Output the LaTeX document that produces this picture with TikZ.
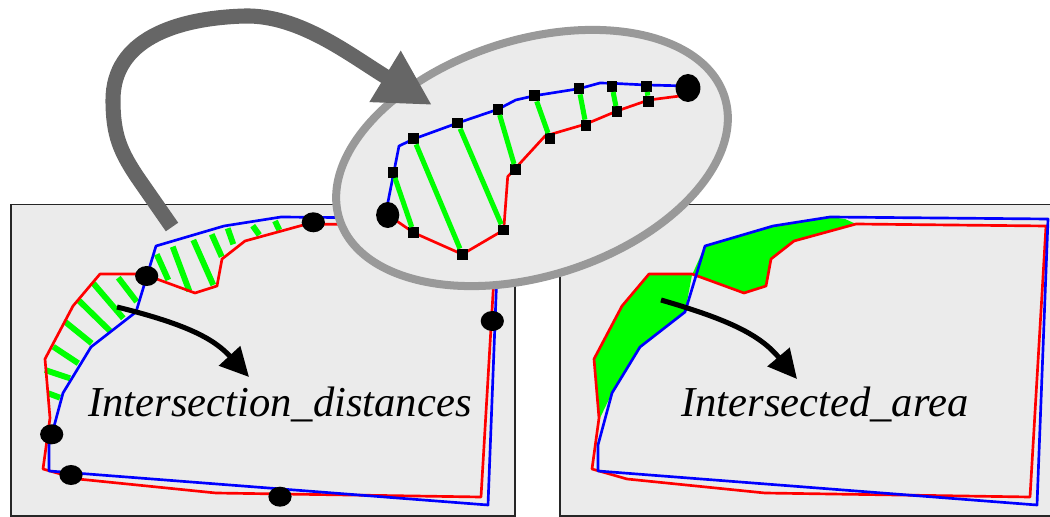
\documentclass[tikz,border=0pt]{standalone}
\usepackage{fontspec}
\setmainfont{Liberation Serif}
\usetikzlibrary{arrows.meta,shapes.geometric}
\definecolor{panelgray}{HTML}{EBEBEB}
\definecolor{ringgray}{HTML}{999999}
\definecolor{arrowgray}{HTML}{666666}
\definecolor{hatchgreen}{HTML}{00FF00}

\begin{document}
\begin{tikzpicture}[x=0.025cm,y=-0.025cm,
  panel/.style={fill=panelgray,draw=black!85,line width=0.9pt},
  redline/.style={draw=red,line width=1.9pt,line join=round},
  blueline/.style={draw=blue,line width=1.9pt,line join=round},
  hatch/.style={draw=hatchgreen,line width=4.2pt},
  dot/.style={ellipse,fill=black,minimum width=0.58cm,minimum height=0.5cm,inner sep=0pt},
  sq/.style={rectangle,fill=black,minimum size=0.27cm,inner sep=0pt},
  pointer/.style={draw=black,line width=3.6pt,-{Triangle[length=0.72cm,width=0.7cm]}},
  bigarrow/.style={draw=arrowgray,line width=10.7pt,-{Triangle[length=1.375cm,width=1.4cm]}},
  lbl/.style={font=\itshape\fontsize{30.3}{36}\selectfont,inner sep=0pt,anchor=base west}]
\useasboundingbox (0,0) rectangle (1050,517);
\draw[panel] (11,204.5) rectangle (515,516);
\draw[panel] (560,204.5) rectangle (1060,516);

\fill[hatchgreen,shift={(549,0)}] (100,274) -- (143,275) -- (136,312) -- (91,347) -- (63,393)
  -- (51,418) -- (45,359) -- (73,306) -- cycle;
\fill[hatchgreen,shift={(549,0)}] (143,275) -- (156,246) -- (224,226) -- (281,217) -- (296,219)
  -- (307,224) -- (245,241) -- (222,259) -- (217,286) -- (195,293) -- cycle;
\foreach \xa/\ya/\xb/\yb in {48.3/393.3/60/397.7, 45/370/70/378.3, 53.3/346.7/78.3/363.3,
  65/321.7/91.7/343.3, 78.3/300/110/331, 93.3/283.3/123.3/318.3, 118.3/277.7/136.7/301.7,
  156.7/254.3/168.3/280, 172.7/246.7/189.3/291, 193.3/240/213.3/285, 211.7/234.3/221.7/256.7,
  227.7/228.3/233.3/244.3, 252.7/225.7/259.3/235, 275/221/279.3/230}
  \draw[hatch] (\xa,\ya) -- (\xb,\yb);

\foreach \dx in {0,549} {
  \draw[redline,shift={(\dx,0)}] (100,274) -- (143,274) -- (195,293) -- (217,286) -- (222,259)
    -- (245,241) -- (307,224) -- (497,226) -- (481,497) -- (216,493) -- (78,479) -- (43,469)
    -- (50,418) -- (45,359) -- (73,306) -- cycle;
  \draw[blueline,shift={(\dx,0)}] (281,217) -- (499,219) -- (488,505) -- (49,471) -- (49,445)
    -- (63,393) -- (91,347) -- (136,312) -- (156,246) -- (224,226) -- cycle;
}
\foreach \x/\y [count=\i] in {146.7/276, 313.3/222.3, 492.3/321, 51.7/434.3, 71/475, 280/496.7}
  \node[dot] (d\i) at (\x,\y) {};

\coordinate (s1) at (117,307);
\coordinate (t1) at (249,377);
\draw[pointer] (s1) .. controls (190,325) and (215,340) .. (t1);
\coordinate (s2) at (661,300);
\coordinate (t2) at (797,379);
\draw[pointer] (s2) .. controls (730,320) and (760,335) .. (t2);
\node[lbl] (dist) at (88,416.5) {Intersection\_distances};
\node[lbl] (area) at (681,416) {Intersected\_area};

\node[ellipse,draw=ringgray,line width=5.7pt,fill=panelgray,minimum width=10.1cm,
  minimum height=5.9cm,rotate=17.66,inner sep=0pt] (zoombox) at (532,158) {};
\draw[redline] (388,215) -- (413.7,232.7) -- (462.3,254.3) -- (503.7,230) -- (507.7,176.7)
  -- (545,136) -- (586,124) -- (617,111) -- (648.7,100) -- (680,96);
\draw[blueline] (386,212) -- (399,146) -- (413.7,139) -- (457.7,123) -- (498,109.3)
  -- (515.7,100) -- (534.7,95.7) -- (579,88.7) -- (600,83) -- (612,83.3) -- (646.3,85) -- (688,86);
\foreach \bx/\by/\rx/\ry [count=\i] in {393/172.3/413.7/232.7, 413.7/138.7/462.3/254.3,
  457.7/123/503.7/230, 498/109.3/515.7/169.7, 534.7/95.7/550/138.7, 579/88.7/586/125.3,
  612/86.3/617/111.7, 646.3/86.3/648.7/101.3} {
  \node[sq] (b\i) at (\bx,\by) {};
  \node[sq] (r\i) at (\rx,\ry) {};
  \draw[hatch,line width=3.6pt] (b\i) -- (r\i);
}
\node[dot,minimum width=0.58cm,minimum height=0.65cm] (e1) at (387.7,215) {};
\node[dot,minimum width=0.62cm,minimum height=0.7cm] (e2) at (688,88) {};

\coordinate (tail) at (172,227);
\coordinate (head) at (432,105);
\draw[bigarrow] (tail) -- (140,181) .. controls (120,152) and (113,135) .. (113,100)
  .. controls (113,40) and (175,18) .. (245,16) .. controls (300,15) and (350,55) .. (head);
\end{tikzpicture}
\end{document}
